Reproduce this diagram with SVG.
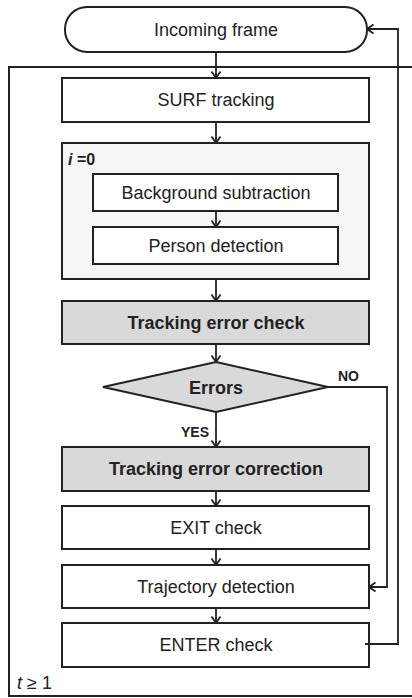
<svg xmlns="http://www.w3.org/2000/svg" width="412" height="698" viewBox="0 0 412 698">
<style>
.box{fill:#fff;stroke:#222;stroke-width:2}
.grey{fill:#d9d9d9;stroke:#222;stroke-width:2}
.light{fill:#f6f6f6;stroke:#222;stroke-width:2}
.t{font-family:"Liberation Sans",Arial,sans-serif;font-size:18px;fill:#222;text-anchor:middle}
.b{font-weight:bold}
.lbl{font-family:"Liberation Sans",Arial,sans-serif;font-size:14px;font-weight:bold;fill:#222}
.c{fill:none;stroke:#222;stroke-width:1.8}
</style>
<defs>
<marker id="ah" markerWidth="10" markerHeight="12" refX="9" refY="6" orient="auto" markerUnits="userSpaceOnUse">
<path d="M2.5,1.5 L9,6 L2.5,10.5" fill="none" stroke="#222" stroke-width="1.8"/>
</marker>
</defs>
<rect width="412" height="698" fill="#fff"/>
<g id="outer-frame">
<rect x="9" y="67" width="420" height="629" fill="none" stroke="#222" stroke-width="2"/>
<text x="17" y="689" font-family="Liberation Sans,Arial,sans-serif" font-size="18" fill="#222"><tspan font-style="italic">t</tspan> ≥ 1</text>
</g>
<g id="incoming">
<rect x="65" y="7" width="302" height="45" rx="22" ry="22" class="box"/>
<text x="216" y="36" class="t">Incoming frame</text>
</g>
<g id="surf">
<rect x="62" y="78" width="307" height="44" class="box"/>
<text x="216" y="106" class="t">SURF tracking</text>
</g>
<g id="loop-i">
<rect x="62" y="143" width="307" height="136" class="light"/>
<text x="68" y="165" font-family="Liberation Sans,Arial,sans-serif" font-size="16" font-weight="bold" fill="#222"><tspan font-style="italic">i</tspan> =0</text>
</g>
<g id="bg">
<rect x="93" y="174" width="245" height="37" class="box"/>
<text x="216" y="199" class="t">Background subtraction</text>
</g>
<g id="person">
<rect x="93" y="227" width="245" height="37" class="box"/>
<text x="216" y="252" class="t">Person detection</text>
</g>
<g id="errcheck">
<rect x="62" y="301" width="307" height="43" class="grey"/>
<text x="216" y="329" class="t b">Tracking error check</text>
</g>
<g id="errors">
<polygon points="216,362 328,387 216,412 103,387" class="grey"/>
<text x="216" y="394" class="t b">Errors</text>
</g>
<g id="errcorr">
<rect x="62" y="447" width="307" height="44" class="grey"/>
<text x="216" y="475" class="t b">Tracking error correction</text>
</g>
<g id="exit">
<rect x="62" y="506" width="307" height="43" class="box"/>
<text x="216" y="534" class="t">EXIT check</text>
</g>
<g id="traj">
<rect x="62" y="565" width="307" height="43" class="box"/>
<text x="216" y="593" class="t">Trajectory detection</text>
</g>
<g id="enter">
<rect x="62" y="623" width="307" height="44" class="box"/>
<text x="216" y="651" class="t">ENTER check</text>
</g>
<g id="connectors">
<line x1="216" y1="52" x2="216" y2="78" class="c" marker-end="url(#ah)"/>
<line x1="216" y1="122" x2="216" y2="143" class="c" marker-end="url(#ah)"/>
<line x1="216" y1="211" x2="216" y2="227" class="c" marker-end="url(#ah)"/>
<line x1="216" y1="279" x2="216" y2="301" class="c" marker-end="url(#ah)"/>
<line x1="216" y1="344" x2="216" y2="362" class="c" marker-end="url(#ah)"/>
<line x1="216" y1="412" x2="216" y2="447" class="c" marker-end="url(#ah)"/>
<line x1="216" y1="491" x2="216" y2="506" class="c" marker-end="url(#ah)"/>
<line x1="216" y1="549" x2="216" y2="565" class="c" marker-end="url(#ah)"/>
<line x1="216" y1="608" x2="216" y2="623" class="c" marker-end="url(#ah)"/>
<polyline points="328,387 387,387 387,587 369,587" class="c" marker-end="url(#ah)"/>
<polyline points="365,644 398,644 398,29 367,29" class="c" marker-end="url(#ah)"/>
<text x="338" y="381" class="lbl">NO</text>
<text x="181" y="437" class="lbl">YES</text>
</g>
</svg>
